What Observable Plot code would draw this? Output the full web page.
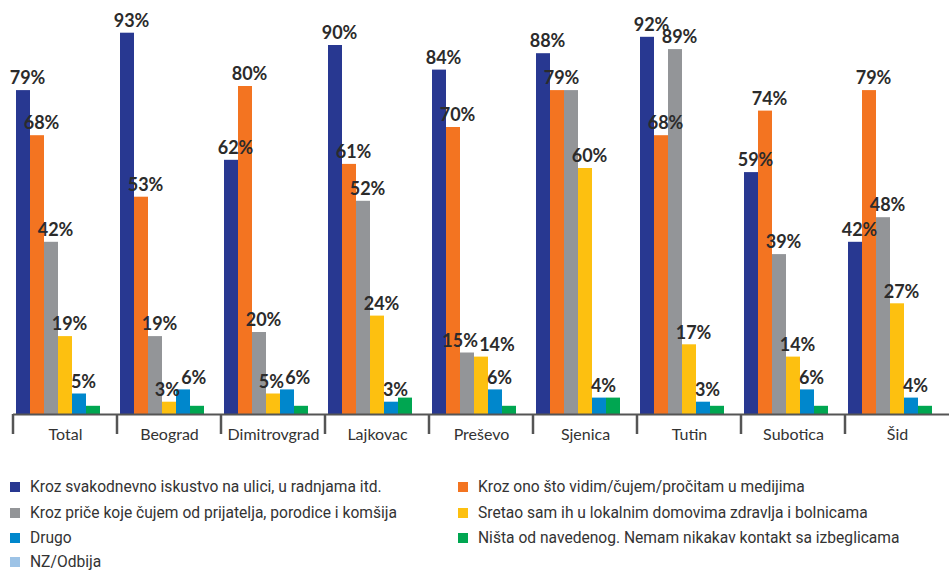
<!DOCTYPE html>
<html>
<head>
<meta charset="utf-8">
<script src="https://cdn.jsdelivr.net/npm/d3@7"></script>
<script src="https://cdn.jsdelivr.net/npm/@observablehq/plot@0.6"></script>
<style>
  html, body { margin: 0; padding: 0; background: #fff; overflow: hidden; }
  #chart { width: 949px; }
  .legend { position: relative; width: 949px; height: 106px; font-family: Roboto, "Noto Sans", sans-serif; font-size: 15.6px; color: #333; }
  .legend .item { position: absolute; display: flex; align-items: center; height: 18px; line-height: 18px; white-space: nowrap; }
  .legend .sw { width: 10px; height: 10px; margin-right: 10px; flex: none; }
</style>
</head>
<body>
<div id="chart"></div>
<script>
const categories = ["Total", "Beograd", "Dimitrovgrad", "Lajkovac", "Preševo", "Sjenica", "Tutin", "Subotica", "Šid"];
const seriesNames = [
  "Kroz svakodnevno iskustvo na ulici, u radnjama itd.",
  "Kroz ono što vidim/čujem/pročitam u medijima",
  "Kroz priče koje čujem od prijatelja, porodice i komšija",
  "Sretao sam ih u lokalnim domovima zdravlja i bolnicama",
  "Drugo",
  "Ništa od navedenog. Nemam nikakav kontakt sa izbeglicama",
  "NZ/Odbija"
];
const seriesColors = ["#283891", "#f37421", "#939598", "#fdc010", "#0087cc", "#00a651", "#9dc3e6"];

const svakodnevno = [79, 93, 62, 90, 84, 88, 92, 59, 42];
const mediji      = [68, 53, 80, 61, 70, 79, 68, 74, 79];
const price       = [42, 19, 20, 52, 15, 79, 89, 39, 48];
const zdravlje    = [19, 3, 5, 24, 14, 60, 17, 14, 27];
const drugo       = [5, 6, 6, 3, 6, 4, 3, 6, 4];
const nista       = [2, 2, 2, 4, 2, 4, 2, 2, 2];
const nzOdbija    = [0, 0, 0, 0, 0, 0, 0, 0, 0];
const seriesValues = [svakodnevno, mediji, price, zdravlje, drugo, nista, nzOdbija];
const labeledSeries = 5; // labels shown for the first five series

const data = [];
categories.forEach((c, i) => {
  seriesValues.forEach((vals, s) => {
    data.push({city: c, series: seriesNames[s], si: s, value: vals[i],
      label: s < labeledSeries && !(s > 0 && seriesValues[s - 1][i] === vals[i])});
  });
});

const W = 949, H = 465, mL = 12, mR = 0, mT = 4, mB = 51;

const plot = Plot.plot({
  width: W, height: H,
  marginLeft: mL, marginRight: mR, marginTop: mT, marginBottom: mB,
  style: {fontFamily: "Lato, 'Open Sans', sans-serif", background: "#fff", overflow: "visible"},
  fx: {domain: categories, padding: 0, axis: null, label: null},
  x: {domain: seriesNames, padding: 0, axis: null},
  y: {domain: [0, 100], axis: null},
  color: {domain: seriesNames, range: seriesColors},
  marks: [
    Plot.barY(data, {fx: "city", x: "series", y: "value", fill: "series"}),
    Plot.text(data.filter(d => d.label), {
      fx: "city", x: "series", y: "value", text: d => d.value + "%",
      dy: -12, dx: 4, fontSize: 18, fontWeight: "bold", fill: "#2b2b2b",
      className: "barlabel"
    }),
    Plot.ruleY([0], {stroke: "#555", strokeWidth: 2}),
    Plot.axisFx({anchor: "bottom", tickSize: 0, tickPadding: 14, fontSize: 16, fill: "#333", label: null})
  ]
});

document.getElementById("chart").appendChild(plot);

// category boundary ticks from the fx scale
const fx = plot.scale("fx");
const svg = d3.select(plot);
const yBase = H - mB;
const edges = categories.map(c => fx.apply(c));
svg.append("g").attr("stroke", "#555").attr("stroke-width", 2.5)
  .selectAll("line").data(edges).join("line")
  .attr("x1", d => d).attr("x2", d => d)
  .attr("y1", yBase).attr("y2", yBase + 20);

// simple collision resolution between neighbouring bar labels
const texts = Array.from(plot.querySelectorAll(".barlabel text"));
const boxes = texts.map(t => ({t, b: t.getBoundingClientRect(), shift: 0}));
boxes.sort((a, b) => a.b.left - b.b.left);
for (let i = 1; i < boxes.length; i++) {
  const p = boxes[i - 1], c = boxes[i];
  const pl = p.b.left + p.shift, pr = p.b.right + p.shift;
  const cl = c.b.left + c.shift;
  const vOverlap = !(c.b.bottom < p.b.top || c.b.top > p.b.bottom);
  if (vOverlap && cl < pr + 1 && cl > pl) {
    const ov = pr + 1 - cl;
    p.shift -= ov / 2; c.shift += ov / 2;
  }
}
boxes.forEach(({t, shift}) => {
  if (shift) t.setAttribute("x", (+t.getAttribute("x") || 0) + shift);
});

// legend
const legend = document.createElement("div");
legend.className = "legend";
const positions = [[10, 13], [458, 13], [10, 39], [458, 39], [10, 64], [458, 64], [10, 88]];
seriesNames.forEach((name, i) => {
  const it = document.createElement("div");
  it.className = "item";
  it.style.left = positions[i][0] + "px";
  it.style.top = positions[i][1] + "px";
  const sw = document.createElement("span");
  sw.className = "sw";
  sw.style.background = seriesColors[i];
  const tx = document.createElement("span");
  tx.textContent = name;
  it.appendChild(sw); it.appendChild(tx);
  legend.appendChild(it);
});
document.body.appendChild(legend);
</script>
</body>
</html>
